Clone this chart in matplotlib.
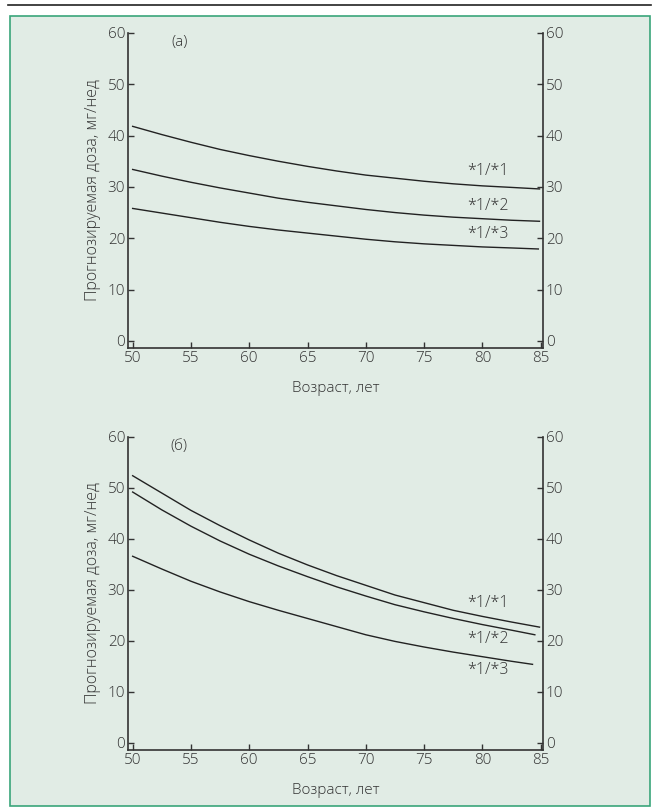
import numpy as np
import matplotlib.pyplot as plt
from matplotlib.patches import Rectangle
from matplotlib.lines import Line2D

plt.rcParams['font.family'] = ['Open Sans', 'DejaVu Sans']

# Панель (а): возраст и прогнозируемая доза
age_a = [50, 52.5, 55, 57.5, 60, 62.5, 65, 67.5, 70, 72.5, 75, 77.5, 80, 82.5, 84.9]
a_11 = [41.8, 40.2, 38.7, 37.3, 36.1, 35.0, 34.0, 33.1, 32.3, 31.7, 31.1, 30.6, 30.2, 29.9, 29.6]
a_12 = [33.4, 32.1, 30.9, 29.8, 28.8, 27.8, 27.0, 26.3, 25.6, 25.0, 24.5, 24.1, 23.8, 23.5, 23.3]
age_a3 = [50, 52.5, 55, 57.5, 60, 62.5, 65, 67.5, 70, 72.5, 75, 77.5, 80, 82.5, 84.8]
a_13 = [25.8, 24.9, 24.0, 23.1, 22.3, 21.6, 21.0, 20.4, 19.8, 19.3, 18.9, 18.6, 18.3, 18.1, 17.9]

# Панель (б)
age_b1 = [50, 52.5, 55, 57.5, 60, 62.5, 65, 67.5, 70, 72.5, 75, 77.5, 80, 82.5, 84.9]
b_11 = [52.4, 49.0, 45.6, 42.6, 39.8, 37.2, 34.9, 32.8, 30.9, 29.0, 27.5, 26.0, 24.8, 23.7, 22.7]
age_b2 = [50, 52.5, 55, 57.5, 60, 62.5, 65, 67.5, 70, 72.5, 75, 77.5, 80, 82.5, 84.5]
b_12 = [49.2, 45.7, 42.5, 39.6, 37.0, 34.7, 32.6, 30.6, 28.8, 27.1, 25.7, 24.4, 23.2, 22.1, 21.2]
age_b3 = [50, 52.5, 55, 57.5, 60, 62.5, 65, 67.5, 70, 72.5, 75, 77.5, 80, 82.5, 84.3]
b_13 = [36.6, 34.1, 31.7, 29.6, 27.7, 26.0, 24.4, 22.8, 21.2, 19.9, 18.8, 17.8, 16.9, 16.0, 15.4]

labels = ['*1/*1', '*1/*2', '*1/*3']
lab_a = [33.1, 26.2, 20.9]
lab_b = [27.4, 20.3, 14.2]
xticks = [50, 55, 60, 65, 70, 75, 80, 85]
yticks = [0, 10, 20, 30, 40, 50, 60]

txt = '#333333'
fig = plt.figure(figsize=(6.57, 8.08), dpi=100)
fig.patch.set_facecolor('white')

# зелёная рамка с фоном и чёрная линия сверху
fig.patches.append(Rectangle((10/657, 0.002), 640/657, 1 - 16/808 - 0.002,
                             transform=fig.transFigure, facecolor='#e1ece5',
                             edgecolor='#3aa57a', linewidth=1.2, zorder=-1))
fig.lines.append(Line2D([8/657, 651/657], [1 - 5/808, 1 - 5/808],
                        transform=fig.transFigure, color='#222222', lw=1.2))


def panel(rect, series, lab_y, tag):
    ax = fig.add_axes(rect)
    ax.set_facecolor('none')
    for x, y in series:
        ax.plot(x, y, color='#222222', lw=1.0)
    for t, y in zip(labels, lab_y):
        ax.text(80.5, y, t, ha='center', va='center', fontsize=11.5,
                color=txt, fontweight='light')
    ax.text(54.0, 58.2, tag, ha='center', va='center', fontsize=11,
            color=txt, fontweight='light')
    ax.set_xlim(49.6, 85.2)
    ax.set_ylim(-1.4, 60)
    ax.set_xticks(xticks)
    ax.set_yticks(yticks)
    ax.spines['top'].set_visible(False)
    for s in ['left', 'right', 'bottom']:
        ax.spines[s].set_color('#333333')
        ax.spines[s].set_linewidth(1.2)
    ax.spines['left'].set_bounds(-1.4, 60)
    ax.spines['right'].set_bounds(-1.4, 60)
    ax.tick_params(direction='in', length=4, width=1, color='#333333',
                   labelsize=11, labelcolor=txt, right=True, labelright=True,
                   pad=2)
    for lb in ax.get_xticklabels() + ax.get_yticklabels():
        lb.set_fontweight('light')
    ax.set_ylabel('Прогнозируемая доза, мг/нед', fontsize=11.5, color=txt,
                  labelpad=5, fontweight='light')
    ax.set_xlabel('Возраст, лет', fontsize=11, color=txt, labelpad=11,
                  fontweight='light')
    return ax


panel([0.1948, 0.5693, 0.6317, 0.3899],
      [(age_a, a_11), (age_a, a_12), (age_a3, a_13)], lab_a, '(a)')
panel([0.1948, 0.0718, 0.6317, 0.3874],
      [(age_b1, b_11), (age_b2, b_12), (age_b3, b_13)], lab_b, '(б)')

fig.savefig('out.png', dpi=100, facecolor=fig.get_facecolor())
